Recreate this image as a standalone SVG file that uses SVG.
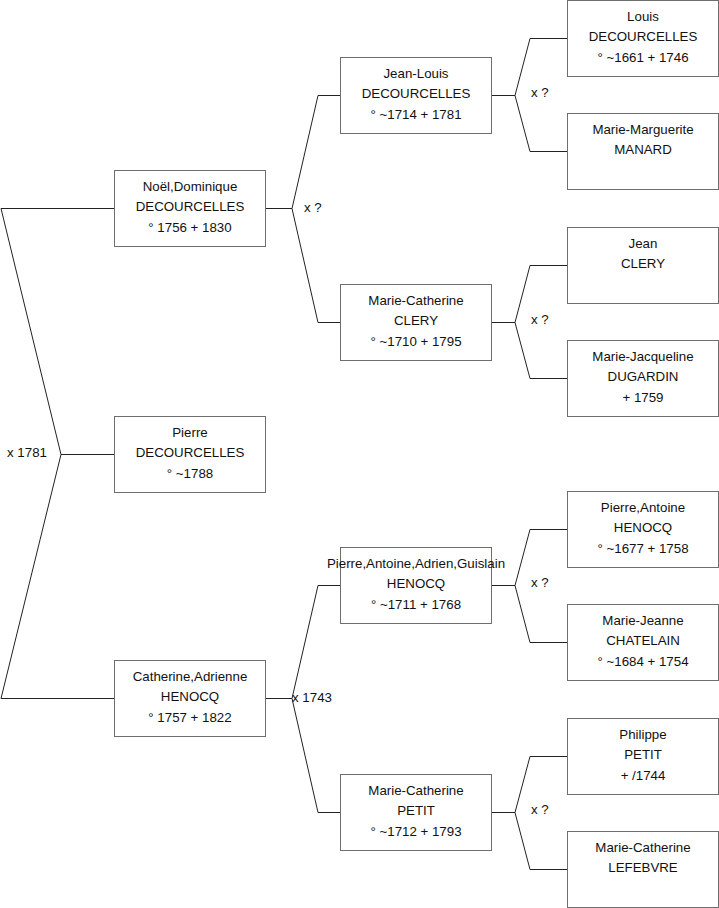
<svg xmlns="http://www.w3.org/2000/svg" width="719" height="908" viewBox="0 0 719 908">
<style>
.box{fill:#fff;stroke:#6e6e6e;stroke-width:1}
.ln{fill:none;stroke:#222;stroke-width:1}
text{font-family:"Liberation Sans",Arial,sans-serif;font-size:13.3px;fill:#111}
.c{text-anchor:middle}
</style>
<rect width="719" height="908" fill="#fff"/>
<g id="connectors">
<polyline class="ln" points="114,208.5 1,208.5 61,454.5 1,698.5 114,698.5"/>
<line class="ln" x1="61" y1="454.5" x2="114" y2="454.5"/>
<polyline class="ln" points="265,208.5 292,208.5"/>
<polyline class="ln" points="340,95.5 318,95.5 292,208.5 318,322.5 340,322.5"/>
<polyline class="ln" points="265,698.5 292,698.5"/>
<polyline class="ln" points="340,585.5 318,585.5 292,698.5 318,812.5 340,812.5"/>
<polyline class="ln" points="491,95.5 515,95.5"/>
<polyline class="ln" points="567,38.5 530,38.5 515,95.5 530,151.5 567,151.5"/>
<polyline class="ln" points="491,322.5 515,322.5"/>
<polyline class="ln" points="567,265.5 530,265.5 515,322.5 530,378.5 567,378.5"/>
<polyline class="ln" points="491,585.5 515,585.5"/>
<polyline class="ln" points="567,529.5 530,529.5 515,585.5 530,642.5 567,642.5"/>
<polyline class="ln" points="491,812.5 515,812.5"/>
<polyline class="ln" points="567,756.5 530,756.5 515,812.5 530,869.5 567,869.5"/>
<text x="7" y="457">x 1781</text>
<text x="304" y="212">x ?</text>
<text x="292" y="702">x 1743</text>
<text x="531" y="97">x ?</text>
<text x="531" y="324">x ?</text>
<text x="531" y="587">x ?</text>
<text x="531" y="814">x ?</text>
</g>
<g id="noel"><rect class="box" x="114.5" y="170.5" width="151" height="76"/>
<text class="c" x="190" y="191">Noël,Dominique</text><text class="c" x="190" y="211">DECOURCELLES</text><text class="c" x="190" y="232">° 1756 + 1830</text></g>
<g id="pierre"><rect class="box" x="114.5" y="416.5" width="151" height="76"/>
<text class="c" x="190" y="437">Pierre</text><text class="c" x="190" y="457">DECOURCELLES</text><text class="c" x="190" y="478">° ~1788</text></g>
<g id="catherine"><rect class="box" x="114.5" y="660.5" width="151" height="76"/>
<text class="c" x="190" y="681">Catherine,Adrienne</text><text class="c" x="190" y="701">HENOCQ</text><text class="c" x="190" y="722">° 1757 + 1822</text></g>
<g id="jeanlouis"><rect class="box" x="340.5" y="57.5" width="151" height="76"/>
<text class="c" x="416" y="78">Jean-Louis</text><text class="c" x="416" y="98">DECOURCELLES</text><text class="c" x="416" y="119">° ~1714 + 1781</text></g>
<g id="mcclery"><rect class="box" x="340.5" y="284.5" width="151" height="76"/>
<text class="c" x="416" y="305">Marie-Catherine</text><text class="c" x="416" y="325">CLERY</text><text class="c" x="416" y="346">° ~1710 + 1795</text></g>
<g id="paag"><rect class="box" x="340.5" y="547.5" width="151" height="76"/>
<text class="c" x="416" y="568">Pierre,Antoine,Adrien,Guislain</text><text class="c" x="416" y="588">HENOCQ</text><text class="c" x="416" y="609">° ~1711 + 1768</text></g>
<g id="mcpetit"><rect class="box" x="340.5" y="774.5" width="151" height="76"/>
<text class="c" x="416" y="795">Marie-Catherine</text><text class="c" x="416" y="815">PETIT</text><text class="c" x="416" y="836">° ~1712 + 1793</text></g>
<g id="louis"><rect class="box" x="567.5" y="0.5" width="151" height="76"/>
<text class="c" x="643" y="21">Louis</text><text class="c" x="643" y="41">DECOURCELLES</text><text class="c" x="643" y="62">° ~1661 + 1746</text></g>
<g id="mmanard"><rect class="box" x="567.5" y="113.5" width="151" height="76"/>
<text class="c" x="643" y="134">Marie-Marguerite</text><text class="c" x="643" y="154">MANARD</text></g>
<g id="jean"><rect class="box" x="567.5" y="227.5" width="151" height="76"/>
<text class="c" x="643" y="248">Jean</text><text class="c" x="643" y="268">CLERY</text></g>
<g id="mjdugardin"><rect class="box" x="567.5" y="340.5" width="151" height="76"/>
<text class="c" x="643" y="361">Marie-Jacqueline</text><text class="c" x="643" y="381">DUGARDIN</text><text class="c" x="643" y="402">+ 1759</text></g>
<g id="pahenocq"><rect class="box" x="567.5" y="491.5" width="151" height="76"/>
<text class="c" x="643" y="512">Pierre,Antoine</text><text class="c" x="643" y="532">HENOCQ</text><text class="c" x="643" y="553">° ~1677 + 1758</text></g>
<g id="mjchatelain"><rect class="box" x="567.5" y="604.5" width="151" height="76"/>
<text class="c" x="643" y="625">Marie-Jeanne</text><text class="c" x="643" y="645">CHATELAIN</text><text class="c" x="643" y="666">° ~1684 + 1754</text></g>
<g id="philippe"><rect class="box" x="567.5" y="718.5" width="151" height="76"/>
<text class="c" x="643" y="739">Philippe</text><text class="c" x="643" y="759">PETIT</text><text class="c" x="643" y="780">+ /1744</text></g>
<g id="mclefebvre"><rect class="box" x="567.5" y="831.5" width="151" height="76"/>
<text class="c" x="643" y="852">Marie-Catherine</text><text class="c" x="643" y="872">LEFEBVRE</text></g>
</svg>
